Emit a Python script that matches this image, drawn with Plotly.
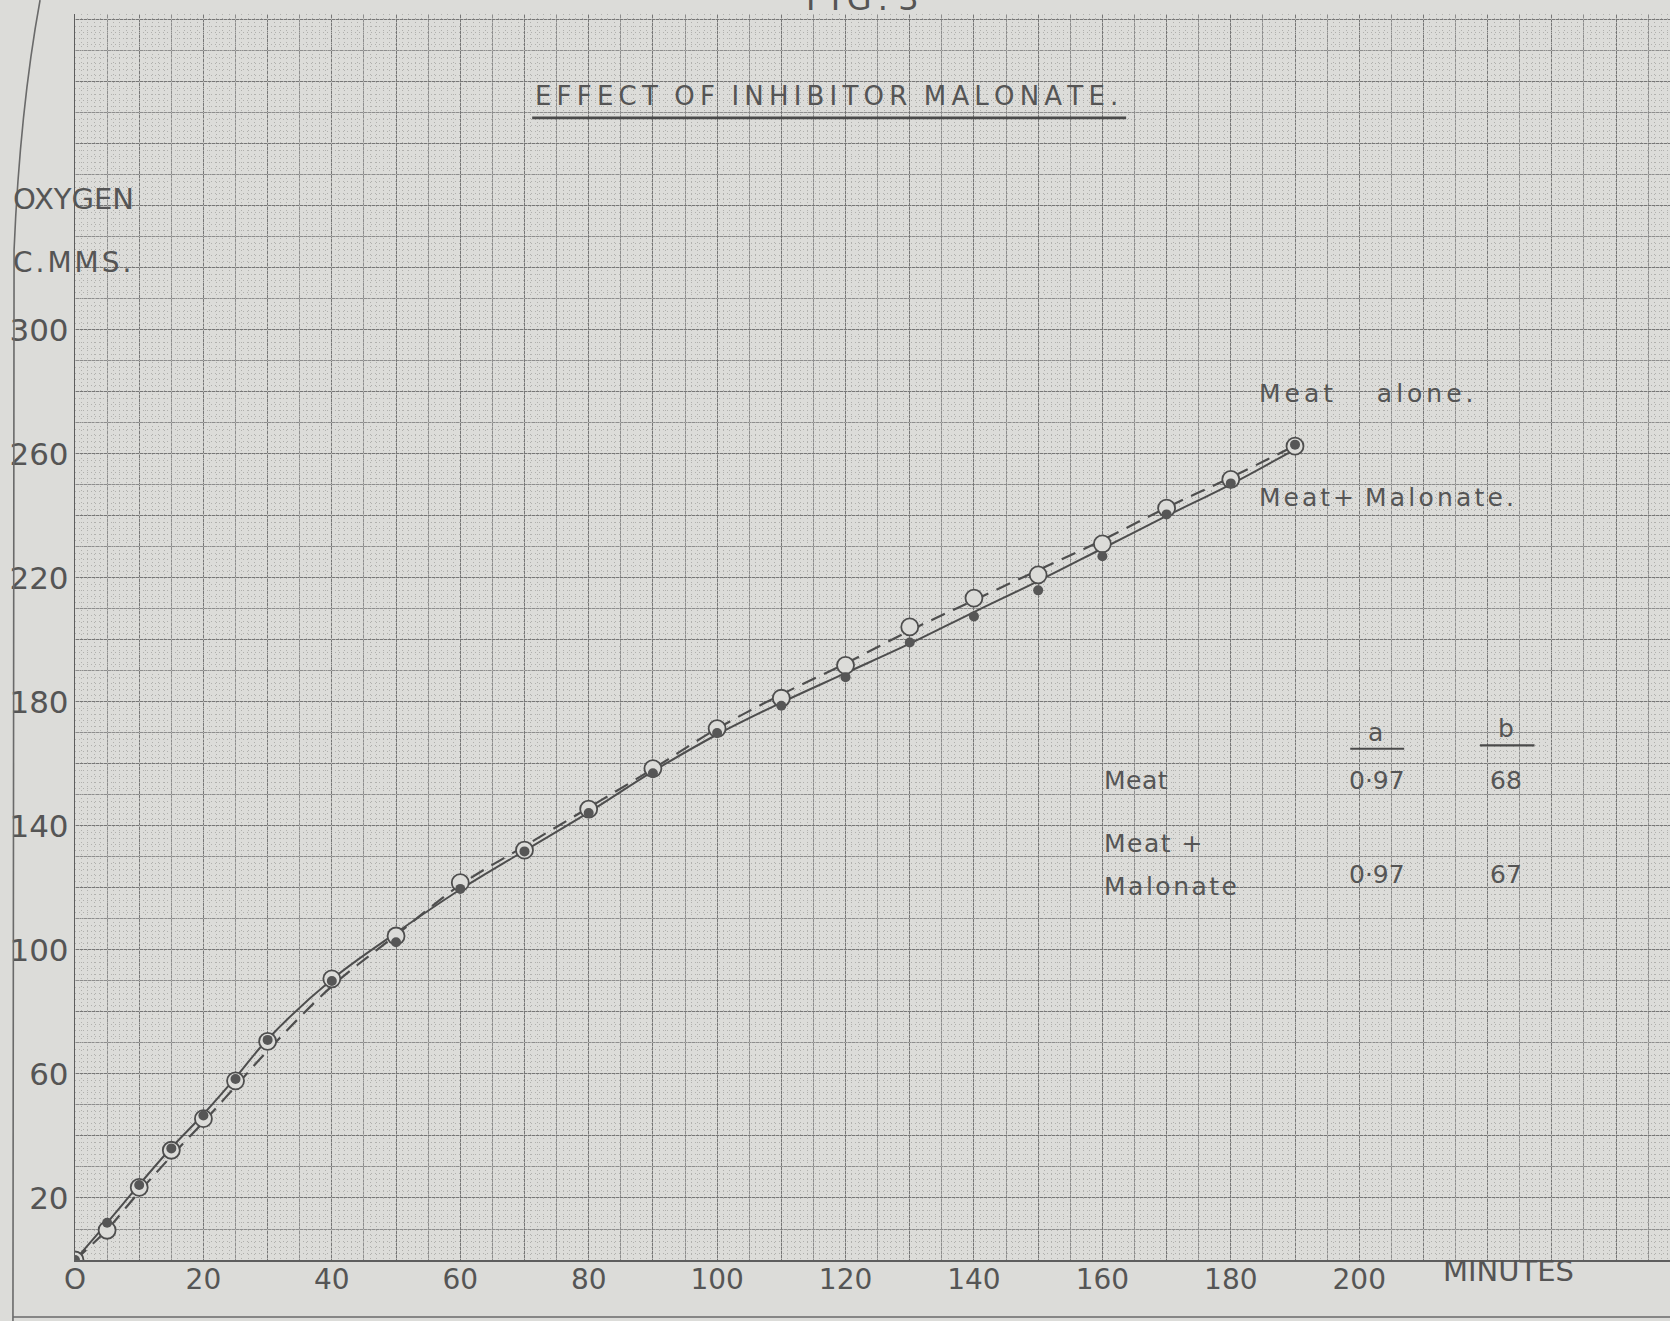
import plotly.graph_objects as go

# ---------------- data ----------------
t_points = [0, 5, 10, 15, 20, 25, 30, 40, 50, 60, 70, 80, 90, 100, 110, 120, 130, 140, 150, 160, 170, 180, 190]
o2_meat_alone = [0, 9.6, 23.4, 35.4, 45.6, 57.8, 70.5, 90.7, 104.5, 121.7, 132.2, 145.4, 158.5, 171.4,
                 181.2, 191.8, 204.2, 213.5, 221.0, 231.0, 242.5, 251.8, 262.5]
o2_meat_malonate = [0, 12.0, 24.2, 36.0, 46.6, 58.4, 71.0, 90.0, 102.5, 119.7, 131.8, 144.2, 157.0, 170.0,
                    178.8, 188.0, 199.2, 207.6, 216.0, 227.0, 240.5, 250.5, 263.0]

# hand-drawn curves
curve_t = [0, 5, 10, 15, 20, 25, 30, 40, 50, 60, 70, 80, 90, 100, 110, 120, 130, 140, 150, 160, 170, 180, 190]
curve_meat_alone = [0, 9.8, 22.0, 33.5, 44.5, 56.0, 67.5, 88.3, 104.8, 121.0, 133.5, 145.9, 158.4, 171.4,
                    182.4, 192.4, 203.0, 212.8, 222.5, 232.2, 242.7, 252.4, 262.7]
curve_meat_malonate = [0, 12.0, 24.3, 36.2, 47.0, 58.8, 71.2, 90.5, 105.5, 119.5, 132.0, 144.4, 157.6, 169.5,
                       179.8, 189.3, 198.8, 209.0, 219.0, 229.5, 240.0, 250.2, 261.5]

x_tick_vals = [0, 20, 40, 60, 80, 100, 120, 140, 160, 180, 200]
x_tick_text = ["O", "20", "40", "60", "80", "100", "120", "140", "160", "180", "200"]
y_tick_vals = [20, 60, 100, 140, 180, 220, 260, 300]
y_tick_text = ["20", "60", "100", "140", "180", "220", "260", "300"]

table_rows = ["Meat", "Meat +", "Malonate"]
table_a = ["0·97", "0·97"]
table_b = ["68", "67"]

# ---------------- style ----------------
W, H = 1670, 1321
ML, MR, MT, MB = 75, 0, 14, 61
XR = [0, 248.4]
YR = [0, 401.9]
BG = "#dcdcd9"
INK = "#4e4e4e"
TXT = "#555555"
FONT = "DejaVu Sans"
THIN = "\u2009"


def spaced(s):
    return " ".join(THIN.join(w) for w in s.split(" "))


def lspace(s, px):
    return '<span style="letter-spacing:%spx">%s</span>' % (px, s)


fig = go.Figure()

# dummy traces so that grid subplots exist
fig.add_trace(go.Scatter(x=[None], y=[None], xaxis="x", yaxis="y", showlegend=False, hoverinfo="skip"))
fig.add_trace(go.Scatter(x=[None], y=[None], xaxis="x3", yaxis="y3", showlegend=False, hoverinfo="skip"))

# curves
fig.add_trace(go.Scatter(x=curve_t, y=curve_meat_alone, mode="lines", xaxis="x2", yaxis="y2",
                         line=dict(color=INK, width=2.2, dash="15px,9px", shape="spline", smoothing=1.0),
                         showlegend=False, hoverinfo="skip"))
fig.add_trace(go.Scatter(x=curve_t, y=curve_meat_malonate, mode="lines", xaxis="x2", yaxis="y2",
                         line=dict(color=INK, width=2.0, shape="spline", smoothing=1.0),
                         showlegend=False, hoverinfo="skip"))
# points
fig.add_trace(go.Scatter(x=t_points, y=o2_meat_alone, mode="markers", xaxis="x2", yaxis="y2",
                         marker=dict(symbol="circle", size=17, color=BG, line=dict(color=INK, width=1.8)),
                         name="Meat alone", showlegend=False))
fig.add_trace(go.Scatter(x=t_points, y=o2_meat_malonate, mode="markers", xaxis="x2", yaxis="y2",
                         marker=dict(symbol="circle", size=10, color="#565656", line=dict(width=0)),
                         name="Meat + Malonate", showlegend=False))

grid_axis_common = dict(showticklabels=False, ticks="", zeroline=False, showline=False, fixedrange=True)

fig.update_layout(
    width=W, height=H,
    margin=dict(l=ML, r=MR, t=MT, b=MB),
    paper_bgcolor=BG, plot_bgcolor=BG,
    showlegend=False,
    font=dict(family=FONT, color=TXT),
    xaxis=dict(range=XR, showgrid=True, tick0=0, dtick=10, gridcolor="#767676", gridwidth=1.2,
               minor=dict(tick0=0, dtick=5, showgrid=True, gridcolor="#8d8d8d", gridwidth=1),
               **grid_axis_common),
    yaxis=dict(range=YR, showgrid=True, tick0=0, dtick=20, gridcolor="#767676", gridwidth=1.2,
               minor=dict(tick0=0, dtick=10, showgrid=True, gridcolor="#8d8d8d", gridwidth=1),
               **grid_axis_common),
    xaxis3=dict(overlaying="x", anchor="y3", range=XR, showgrid=True, tick0=0, dtick=1,
                gridcolor="#b0b0ad", gridwidth=1, griddash="1px,3px", **grid_axis_common),
    yaxis3=dict(overlaying="y", anchor="x3", range=YR, showgrid=True, tick0=0, dtick=2,
                gridcolor="#b0b0ad", gridwidth=1, griddash="1px,3px", **grid_axis_common),
    xaxis2=dict(overlaying="x", anchor="y2", range=XR, side="bottom", showgrid=False, zeroline=False,
                tickmode="array", tickvals=x_tick_vals, ticktext=x_tick_text, ticks="",
                ticklabelstandoff=-6, tickfont=dict(family=FONT, size=28, color=TXT),
                showline=True, linecolor="#5e5e5e", linewidth=1.6, fixedrange=True),
    yaxis2=dict(overlaying="y", anchor="x2", range=YR, side="left", showgrid=False, zeroline=False,
                tickmode="array", tickvals=y_tick_vals, ticktext=y_tick_text, ticks="",
                ticklabelstandoff=-1, tickfont=dict(family=FONT, size=31, color=TXT),
                showline=True, linecolor="#5e5e5e", linewidth=1.4, fixedrange=True),
)

ann = []
# title
ann.append(dict(x=117, y=375.5, xref="x2", yref="y2", text=spaced("EFFECT  OF  INHIBITOR  MALONATE."),
                showarrow=False, xanchor="center", yanchor="middle", font=dict(size=26, color=TXT)))
# figure number (cut by top edge)
ann.append(dict(x=0.494, y=0.9952, xref="paper", yref="paper", text=spaced("FIG. 3"), showarrow=False,
                xanchor="center", yanchor="bottom", font=dict(size=32, color=TXT)))
# y axis title
ann.append(dict(x=-0.0401, y=342.3, xref="paper", yref="y2", text="OXYGEN", showarrow=False,
                xanchor="left", yanchor="middle", font=dict(size=29, color=TXT)))
ann.append(dict(x=-0.0401, y=321.9, xref="paper", yref="y2", text=lspace("C.MMS.", 3), showarrow=False,
                xanchor="left", yanchor="middle", font=dict(size=28, color=TXT)))
# x axis title
ann.append(dict(x=0.899, y=-0.0089, xref="paper", yref="paper", text="MINUTES", showarrow=False,
                xanchor="center", yanchor="middle", font=dict(size=29, color=TXT)))
# curve labels
ann.append(dict(x=184.1, y=279.4, xref="x2", yref="y2",
                text=lspace("Meat", 4) + "\u00a0" * 5 + lspace("alone.", 4), showarrow=False,
                xanchor="left", yanchor="middle", font=dict(size=25, color=TXT)))
ann.append(dict(x=184.1, y=246.0, xref="x2", yref="y2",
                text=lspace("Meat+", 3) + " " + lspace("Malonate.", 3.2), showarrow=False,
                xanchor="left", yanchor="middle", font=dict(size=25, color=TXT)))
# table
ann.append(dict(x=202.5, y=170.0, xref="x2", yref="y2", text="a", showarrow=False,
                xanchor="center", yanchor="middle", font=dict(size=25, color=TXT)))
ann.append(dict(x=222.9, y=171.5, xref="x2", yref="y2", text="b", showarrow=False,
                xanchor="center", yanchor="middle", font=dict(size=25, color=TXT)))
row_y = [154.6, 134.4, 120.6]
row_spacing = [0.5, 1.5, 2.5]
for lab, yy, ls in zip(table_rows, row_y, row_spacing):
    ann.append(dict(x=160.0, y=yy, xref="x2", yref="y2", text=lspace(lab, ls), showarrow=False,
                    xanchor="left", yanchor="middle", font=dict(size=25, color=TXT)))
val_y = [154.6, 124.5]
for av, bv, yy in zip(table_a, table_b, val_y):
    ann.append(dict(x=202.8, y=yy, xref="x2", yref="y2", text=av, showarrow=False,
                    xanchor="center", yanchor="middle", font=dict(size=25, color=TXT)))
    ann.append(dict(x=222.9, y=yy, xref="x2", yref="y2", text=bv, showarrow=False,
                    xanchor="center", yanchor="middle", font=dict(size=25, color=TXT)))
fig.update_layout(annotations=ann)

shapes = [
    # title underline
    dict(type="line", xref="x2", yref="y2", x0=71.2, x1=163.7, y0=368.4, y1=368.4,
         line=dict(color="#4a4a4a", width=2.6)),
    # table header underlines
    dict(type="line", xref="x2", yref="y2", x0=198.6, x1=207.0, y0=164.9, y1=164.9,
         line=dict(color="#4a4a4a", width=2.2)),
    dict(type="line", xref="x2", yref="y2", x0=218.8, x1=227.3, y0=166.0, y1=166.0,
         line=dict(color="#4a4a4a", width=2.2)),
    # page edge (left, curved) and bottom edge line
    dict(type="path", xref="paper", yref="paper",
         path="M -0.0219,1.0112 Q -0.0345,0.923 -0.0382,0.8106 L -0.0389,-0.049",
         line=dict(color="#6a6a6a", width=1.6)),
    dict(type="line", xref="paper", yref="paper", x0=-0.0389, x1=1.0, y0=-0.0457, y1=-0.0457,
         line=dict(color="#6a6a6a", width=1.6)),
]
fig.update_layout(shapes=shapes)

fig.write_html(
    "out.html",
    config={"displayModeBar": False},
    post_script="document.body.style.margin='0';document.body.style.overflow='hidden';"
                "document.body.style.background='%s';" % BG,
)
